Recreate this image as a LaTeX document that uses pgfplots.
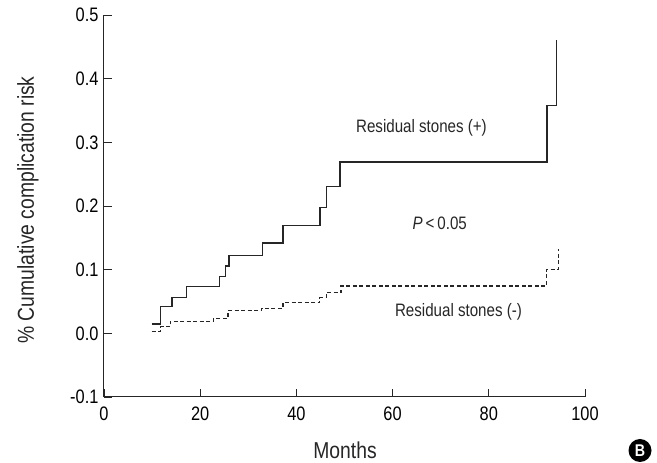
\documentclass[border=0pt]{standalone}
\usepackage{fontspec}
\setmainfont{Liberation Sans}[FakeStretch=0.84]
\usepackage{pgfplots}
\pgfplotsset{compat=1.18}
\definecolor{ink}{HTML}{262626}
\begin{document}
\begin{tikzpicture}
\begin{axis}[
    at={(104pt,66pt)}, anchor=south west,
    scale only axis, width=481pt, height=382pt,
    xmin=0, xmax=100, ymin=-0.1, ymax=0.5,
    xtick={0,20,40,60,80,100},
    ytick={-0.1,0,0.1,0.2,0.3,0.4,0.5},
    axis x line=bottom, axis y line=left,
    axis line style={-, ink, line width=1pt},
    tick align=inside, major tick length=8pt,
    tick style={ink, line width=0.9pt},
    /pgf/number format/assume math mode=true,
    yticklabel style={/pgf/number format/fixed, /pgf/number format/fixed zerofill,
        /pgf/number format/precision=1, font=\fontsize{19.5}{22}\selectfont, xshift=-2pt},
    xticklabel style={font=\fontsize{19.5}{22}\selectfont, yshift=-6pt},
    clip=false,
]
% residual stones (+)
\addplot[const plot, ink, line width=1.4pt] coordinates {
  (9.9,0.0146)(11.8,0.042)(14.1,0.056)(17.2,0.074)(24.0,0.089)(25.2,0.106)
  (26.0,0.122)(32.9,0.142)(37.2,0.169)(44.9,0.198)(46.2,0.231)(49.1,0.269)
  (92.1,0.358)(94.1,0.461)};
% residual stones (-)
\addplot[const plot, ink, line width=1.3pt, dash pattern=on 4pt off 2.5pt] coordinates {
  (9.9,0.0026)(11.8,0.0105)(13.8,0.019)(22.7,0.0235)(25.8,0.0356)(32.8,0.039)
  (37.2,0.048)(44.8,0.056)(46.2,0.064)(49.3,0.0744)(92.0,0.1006)(94.5,0.132)};
\node[font=\fontsize{18}{21}\selectfont, text=ink] at (axis cs:66.0,0.323) {Residual stones (+)};
\node[font=\fontsize{18}{21}\selectfont, text=ink] at (axis cs:69.8,0.173) {\textit{P}\,<\,0.05};
\node[font=\fontsize{18}{21}\selectfont, text=ink] at (axis cs:73.7,0.034) {Residual stones (-)};
\end{axis}
\node[font=\fontsize{23}{26}\selectfont, text=ink] at (345pt,13pt) {Months};
\node[font=\fontsize{23}{26}\selectfont, text=ink, rotate=90] at (28pt,253pt) {\% Cumulative complication risk};
\node[circle, fill=black, text=white, inner sep=0pt, minimum size=23pt,
      font=\fontsize{17}{19}\selectfont\bfseries] at (640pt,12.5pt) {B};
\pgfresetboundingbox
\path (0,0) rectangle (657pt,463pt);
\end{tikzpicture}
\end{document}
